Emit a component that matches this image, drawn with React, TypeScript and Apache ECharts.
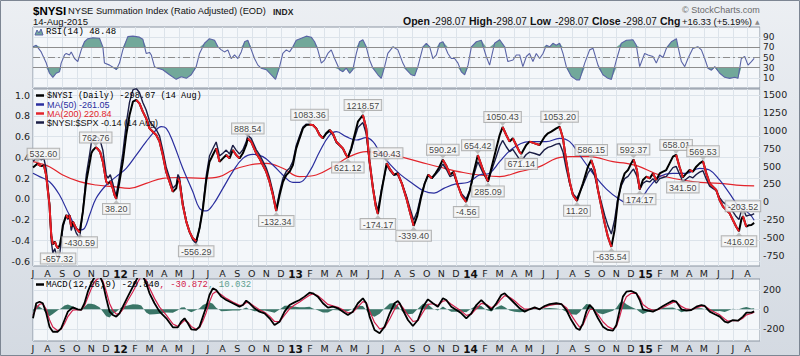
import React, { useEffect, useRef } from "react";
import * as echarts from "echarts";

// x unit: months since 1 Jul 2011
const X_MAX = 49.85;
const X_LABELS = [
  "J", "A", "S", "O", "N", "D",
  "12", "F", "M", "A", "M", "J", "J", "A", "S", "O", "N", "D",
  "13", "F", "M", "A", "M", "J", "J", "A", "S", "O", "N", "D",
  "14", "F", "M", "A", "M", "J", "J", "A", "S", "O", "N", "D",
  "15", "F", "M", "A", "M", "J", "J", "A",
];

const priceT = [
  0, 0.3, 0.55, 0.75, 0.9, 1.13, 1.25, 1.36, 1.5, 1.6,
  1.72, 1.85, 1.95, 2.05, 2.28, 2.39, 2.5, 2.62, 2.74, 2.96,
  3.2, 3.42, 3.65, 3.88, 4.0, 4.1, 4.3, 4.45, 4.6, 4.79,
  5.02, 5.15, 5.3, 5.47, 5.59, 5.71, 5.93, 6.16, 6.39, 6.62,
  6.85, 7.08, 7.3, 7.53, 7.76, 7.99, 8.22, 8.45, 8.68, 8.9,
  9.13, 9.36, 9.59, 9.82, 9.94, 10.05, 10.27, 10.51, 10.73, 10.96,
  11.19, 11.42, 11.65, 11.88, 12.1, 12.33, 12.56, 12.68, 12.79, 13.02,
  13.25, 13.48, 13.7, 13.93, 14.16, 14.39, 14.62, 14.73, 14.96, 15.31,
  15.53, 15.76, 15.99, 16.22, 16.45, 16.68, 16.91, 17.14, 17.37, 17.6,
  17.82, 18.05, 18.28, 18.51, 18.74, 18.96, 19.19, 19.42, 19.65, 19.88,
  20.1, 20.34, 20.56, 20.8, 21.02, 21.25, 21.47, 21.59, 21.82, 22.05,
  22.28, 22.62, 22.85, 23.08, 23.31, 23.5, 23.65, 23.9, 24.25, 24.5,
  24.75, 25.0, 25.3, 25.6, 25.85, 26.1, 26.35, 26.6, 26.85, 27.1,
  27.35, 27.6, 27.85, 28.1, 28.35, 28.6, 28.85, 29.1, 29.4, 29.7,
  29.95, 30.2, 30.5, 30.85, 31.2, 31.54, 31.77, 32.0, 32.2, 32.45,
  32.68, 32.9, 33.13, 33.36, 33.48, 33.82, 34.05, 34.4, 34.74, 35.08,
  35.31, 35.54, 35.88, 36.11, 36.34, 36.57, 36.8, 37.02, 37.3, 37.71,
  38.05, 38.28, 38.51, 38.74, 38.97, 39.2, 39.42, 39.66, 39.88, 40.11,
  40.34, 40.57, 40.8, 41.02, 41.18, 41.41, 41.6, 41.82, 42.06, 42.29,
  42.51, 42.74, 42.97, 43.2, 43.42, 43.65, 43.88, 44.1, 44.33, 44.56,
  44.8, 45.02, 45.25, 45.48, 45.71, 45.94, 46.17, 46.4, 46.62, 46.85,
  47.08, 47.31, 47.54, 47.77, 47.99, 48.22, 48.41, 48.57, 48.68, 48.91,
  49.1, 49.26, 49.45,
];

const priceV = [
  480, 532.6, 500, 510, 375, -47, -469, -600, -563, -620,
  -657.32, -600, -480, -328, -188, -235, -188, -352, -281, -375,
  -430.59, -141, 281, 540, 680, 720, 762.76, 740, 700, 562,
  281, 250, 290, 187, 94, 38.2, 281, 562, 937, 1219,
  1406, 1430, 1383, 1266, 1172, 1031, 984, 937, 844, 656,
  422, 281, 140, 187, 328, 281, -47, -281, -422, -516,
  -556.29, -375, -100, 300, 560, 656, 750, 656, 562, 609,
  656, 609, 727, 656, 609, 680, 797, 888.54, 844, 680,
  609, 516, 422, 281, 94, -132.34, 94, 281, 375, 422,
  516, 750, 891, 1031, 1078, 1083.36, 1078, 1031, 937, 891,
  961, 1008, 961, 844, 797, 750, 656, 621.12, 750, 937,
  1125, 1218.57, 1031, 562, 187, -60, -174.17, 150, 540.43, 450,
  380, 400, 250, 50, -150, -339.4, -200, 50, 250, 380,
  330, 400, 480, 590.24, 500, 380, 420, 250, 80, -4.56,
  150, 400, 654.42, 450, 285.09, 562, 750, 937, 1050.43, 937,
  844, 891, 797, 700, 671.14, 797, 844, 820, 797, 914,
  961, 984, 1031, 1053.2, 891, 562, 281, 94, 11.2, 258,
  492, 586.15, 445, 164, -70, -304, -492, -635.54, -398, 23,
  258, 398, 445, 539, 592.37, 445, 174.17, 305, 352, 328,
  398, 305, 398, 422, 445, 539, 633, 658.01, 492, 341.5,
  398, 445, 422, 492, 539, 569.53, 398, 258, 211, 164,
  23, -70, -117, -164, -258, -352, -416.02, -250, -203.52, -352,
  -330, -328, -298.07,
];

// $NYSI:$SPX ratio (left axis), same dates as priceT
const ratioV = [
  0.361, 0.397, 0.376, 0.386, 0.288, -0.039, -0.408, -0.522, -0.481, -0.544,
  -0.572, -0.508, -0.4, -0.273, -0.157, -0.201, -0.161, -0.306, -0.242, -0.329,
  -0.381, -0.118, 0.227, 0.425, 0.54, 0.571, 0.605, 0.592, 0.565, 0.468,
  0.228, 0.2, 0.232, 0.151, 0.076, 0.031, 0.223, 0.439, 0.721, 0.931,
  1.05, 1.063, 1.024, 0.927, 0.855, 0.75, 0.705, 0.667, 0.603, 0.469,
  0.306, 0.205, 0.101, 0.134, 0.234, 0.202, -0.035, -0.213, -0.322, -0.397,
  -0.431, -0.284, -0.075, 0.222, 0.412, 0.482, 0.547, 0.479, 0.413, 0.438,
  0.469, 0.432, 0.516, 0.469, 0.432, 0.472, 0.548, 0.609, 0.582, 0.472,
  0.426, 0.363, 0.299, 0.202, 0.068, -0.097, 0.068, 0.199, 0.264, 0.297,
  0.361, 0.514, 0.604, 0.692, 0.719, 0.717, 0.712, 0.681, 0.621, 0.586,
  0.624, 0.648, 0.616, 0.541, 0.513, 0.481, 0.422, 0.398, 0.472, 0.582,
  0.686, 0.734, 0.625, 0.343, 0.115, -0.038, -0.11, 0.093, 0.322, 0.266,
  0.225, 0.235, 0.148, 0.03, -0.091, -0.207, -0.12, 0.03, 0.147, 0.225,
  0.196, 0.233, 0.274, 0.335, 0.282, 0.212, 0.233, 0.14, 0.045, -0.003,
  0.082, 0.217, 0.356, 0.251, 0.163, 0.312, 0.408, 0.506, 0.562, 0.501,
  0.454, 0.476, 0.428, 0.38, 0.365, 0.426, 0.449, 0.436, 0.419, 0.474,
  0.495, 0.505, 0.526, 0.533, 0.451, 0.285, 0.145, 0.049, 0.006, 0.13,
  0.246, 0.293, 0.224, 0.083, -0.036, -0.158, -0.259, -0.34, -0.204, 0.011,
  0.126, 0.194, 0.215, 0.26, 0.286, 0.218, 0.087, 0.148, 0.171, 0.162,
  0.194, 0.151, 0.194, 0.205, 0.213, 0.257, 0.3, 0.312, 0.238, 0.166,
  0.19, 0.215, 0.202, 0.234, 0.257, 0.27, 0.189, 0.122, 0.1, 0.078,
  0.011, -0.033, -0.056, -0.079, -0.125, -0.172, -0.2, -0.118, -0.096, -0.168,
  -0.158, -0.157, -0.143,
];

const ma50 = [
  [0, 400], [0.45, 352], [1.13, 281], [1.82, 94], [2.5, -188], [3.19, -398], [3.53, -375],
  [3.88, -188], [4.33, 47], [5.02, 234], [5.71, 352], [6.39, 469], [7.08, 656], [7.76, 844],
  [8.33, 984], [8.79, 1055], [9.14, 1031], [9.59, 844], [10.27, 469], [10.96, 140], [11.42, -94],
  [11.88, -130], [12.33, -47], [13.02, 187], [13.7, 422], [14.39, 609], [15.08, 666], [15.76, 633],
  [16.45, 516], [17.13, 375], [17.82, 272], [18.28, 272], [18.96, 422], [19.65, 703], [20.34, 937],
  [20.8, 984], [21.48, 914], [22.17, 867], [22.85, 900], [23.31, 844], [23.77, 703], [24.5, 520],
  [25.2, 380], [26.0, 260], [26.8, 150], [27.5, 120], [28.2, 190], [29.0, 250], [29.8, 270],
  [30.6, 375], [31.3, 400], [32.0, 562], [32.9, 750], [34.05, 844], [35.2, 844], [36.11, 891],
  [36.8, 844], [37.48, 656], [38.39, 399], [39.3, 180], [40.23, 30], [40.9, -30], [41.6, 23],
  [42.29, 211], [42.97, 352], [43.88, 398], [44.8, 398], [45.71, 469], [46.39, 445], [47.08, 305],
  [47.76, 117], [48.41, -70], [49.09, -164], [49.45, -261.05],
];

const ma200 = [
  [0, 562], [0.45, 539], [1.13, 492], [2.04, 375], [3.19, 281], [4.33, 234], [5.47, 211],
  [6.62, 187], [7.76, 258], [8.9, 328], [10.05, 340], [11.65, 328], [12.79, 352], [13.7, 445],
  [14.85, 516], [16.0, 539], [17.13, 469], [18.28, 352], [19.42, 375], [20.56, 492], [21.7, 633],
  [22.85, 703], [23.77, 680], [25.0, 640], [26.5, 560], [28.0, 480], [29.5, 410], [30.62, 375],
  [32.0, 352], [33.36, 422], [34.74, 492], [35.88, 609], [36.8, 633], [38.17, 633], [39.77, 562],
  [40.69, 539], [41.5, 500], [42.97, 375], [45.25, 281], [47.08, 258], [48.23, 234], [49.45, 220.84],
];

// [time, value, t=label above / b=label below]
const peakLabels: [number, number, string][] = [
  [0.3, 532.6, "t"], [1.72, -657.32, "b"], [3.2, -430.59, "b"], [4.3, 762.76, "t"],
  [5.71, 38.2, "b"], [11.19, -556.29, "b"], [14.73, 888.54, "t"], [16.68, -132.34, "b"],
  [18.96, 1083.36, "t"], [21.59, 621.12, "b"], [22.62, 1218.57, "t"], [23.65, -174.17, "b"],
  [24.25, 540.43, "t"], [26.1, -339.4, "b"], [28.1, 590.24, "t"], [29.7, -4.56, "b"],
  [30.5, 654.42, "t"], [31.2, 285.09, "b"], [32.2, 1050.43, "t"], [33.48, 671.14, "b"],
  [36.11, 1053.2, "t"], [37.3, 11.2, "b"], [38.28, 586.15, "t"], [39.66, -635.54, "b"],
  [41.18, 592.37, "t"], [41.6, 174.17, "b"], [44.1, 658.01, "t"], [44.56, 341.5, "b"],
  [45.94, 569.53, "t"], [48.41, -416.02, "b"], [48.68, -203.52, "t"],
];

const rsi = [
  [0, 71], [0.22, 74], [0.56, 61], [0.91, 39], [1.13, 19], [1.36, 11], [1.59, 19], [1.82, 22],
  [1.93, 39], [2.16, 55], [2.28, 58], [2.5, 55], [2.62, 61], [2.85, 48], [3.07, 42], [3.31, 65],
  [3.53, 81], [3.76, 87], [4.1, 89], [4.56, 88], [4.79, 71], [4.9, 39], [5.25, 35], [5.59, 29],
  [5.71, 26], [5.93, 39], [6.16, 65], [6.5, 91], [6.85, 92], [7.3, 90], [7.53, 86], [7.76, 58],
  [7.99, 60], [8.11, 55], [8.33, 32], [8.56, 29], [8.9, 26], [9.36, 16], [9.82, 7], [10.17, 12],
  [10.51, 9], [10.85, 16], [11.19, 32], [11.42, 58], [11.76, 78], [12.1, 87], [12.45, 84],
  [12.68, 71], [12.91, 65], [13.13, 61], [13.36, 65], [13.59, 48], [13.82, 55], [14.05, 48],
  [14.28, 61], [14.51, 81], [14.73, 84], [14.97, 65], [15.19, 48], [15.42, 35], [15.65, 29],
  [16.0, 26], [16.34, 16], [16.63, 7], [16.91, 32], [17.13, 58], [17.37, 65], [17.59, 61],
  [17.82, 71], [18.05, 84], [18.4, 88], [18.74, 92], [19.08, 90], [19.31, 81], [19.53, 65],
  [19.77, 39], [19.99, 45], [20.22, 58], [20.45, 65], [20.68, 48], [21.02, 26], [21.25, 22],
  [21.48, 29], [21.71, 19], [21.93, 26], [22.17, 58], [22.39, 81], [22.62, 85], [22.85, 71],
  [23.08, 45], [23.31, 29], [23.65, 16], [23.88, 9], [24.11, 32], [24.33, 58], [24.68, 71],
  [25.02, 65], [25.36, 39], [25.6, 26], [25.94, 16], [26.17, 14], [26.39, 32], [26.74, 71],
  [26.97, 78], [27.2, 71], [27.42, 48], [27.66, 55], [27.88, 78], [28.11, 81], [28.45, 58],
  [28.68, 48], [28.91, 48], [29.14, 39], [29.37, 22], [29.6, 16], [29.83, 35], [30.06, 71],
  [30.4, 81], [30.74, 84], [31.08, 52], [31.31, 35], [31.65, 78], [32.0, 85], [32.34, 71],
  [32.56, 42], [32.91, 45], [33.14, 55], [33.37, 55], [33.59, 32], [33.83, 52], [34.05, 58],
  [34.28, 42], [34.51, 58], [34.74, 48], [34.97, 58], [35.2, 74], [35.43, 71], [35.65, 78],
  [35.88, 74], [36.11, 78], [36.34, 58], [36.57, 32], [36.91, 13], [37.26, 6], [37.48, 6],
  [37.83, 39], [38.17, 65], [38.4, 68], [38.74, 35], [39.08, 16], [39.42, 9], [39.66, 7],
  [40.0, 45], [40.34, 78], [40.69, 84], [41.14, 85], [41.37, 74], [41.6, 32], [41.94, 58],
  [42.17, 55], [42.51, 52], [42.74, 39], [42.97, 55], [43.2, 50], [43.43, 68], [43.77, 81],
  [44.12, 87], [44.23, 71], [44.46, 42], [44.69, 32], [44.91, 48], [45.25, 68], [45.6, 71],
  [45.83, 65], [46.06, 48], [46.28, 29], [46.52, 25], [46.75, 32], [47.09, 19], [47.43, 11],
  [47.77, 9], [48.11, 11], [48.34, 9], [48.57, 48], [48.8, 52], [49.03, 35], [49.26, 42],
  [49.45, 48.48],
];

const macdT = [
  0, 0.22, 0.45, 0.67, 0.91, 1.13, 1.36, 1.7, 1.93, 2.16,
  2.39, 2.73, 3.07, 3.31, 3.53, 3.76, 3.99, 4.22, 4.56, 4.79,
  5.02, 5.25, 5.47, 5.71, 5.93, 6.16, 6.5, 6.85, 7.19, 7.42,
  7.76, 7.99, 8.33, 8.68, 9.14, 9.59, 9.93, 10.16, 10.39, 10.62,
  10.85, 11.19, 11.42, 11.65, 11.88, 12.1, 12.33, 12.56, 12.91, 13.25,
  13.7, 14.16, 14.39, 14.62, 14.85, 15.19, 15.53, 15.88, 16.22, 16.56,
  16.91, 17.25, 17.59, 17.93, 18.28, 18.62, 18.96, 19.19, 19.53, 19.88,
  20.22, 20.56, 20.91, 21.25, 21.59, 21.93, 22.28, 22.62, 22.85, 23.08,
  23.42, 23.77, 24.11, 24.46, 24.79, 25.02, 25.14, 25.36, 25.71, 26.05,
  26.39, 26.74, 27.08, 27.42, 27.76, 28.11, 28.34, 28.68, 29.03, 29.37,
  29.71, 30.06, 30.4, 30.74, 31.08, 31.43, 31.77, 32.11, 32.34, 32.68,
  33.02, 33.37, 33.71, 34.05, 34.4, 34.74, 35.08, 35.43, 35.88, 36.23,
  36.57, 36.91, 37.26, 37.48, 37.71, 37.94, 38.17, 38.4, 38.74, 39.08,
  39.42, 39.77, 40.0, 40.23, 40.45, 40.69, 41.03, 41.37, 41.6, 41.82,
  42.17, 42.51, 42.85, 43.2, 43.54, 43.88, 44.11, 44.46, 44.8, 45.14,
  45.49, 45.83, 46.06, 46.4, 46.75, 47.09, 47.43, 47.65, 47.99, 48.34,
  48.68, 48.92, 49.26, 49.45,
];
const macdV = [
  -92, 62, 78, 62, -41, -178, -230, -230, -195, -110,
  -24, 20, 0, -7, 62, 181, 267, 330, 350, 267,
  113, -24, -58, -75, -41, 27, 130, 232, 330, 380,
  267, 164, 62, -24, -92, -185, -185, -127, -92, -144,
  -205, -212, -178, -75, 27, 147, 215, 198, 130, 95,
  62, 27, 44, 89, 62, 10, -24, -41, -92, -161,
  -127, -24, 44, 71, 95, 130, 170, 164, 130, 62,
  17, 27, 10, -24, -58, -24, 62, 113, 62, -75,
  -212, -246, -178, -41, 62, 85, 62, -7, -110, -171,
  -110, 27, 102, 62, 27, 113, 95, 27, -7, -41,
  -92, -41, 44, 95, 44, -7, 62, 147, 164, 113,
  62, 10, -24, 0, 20, 0, 34, 54, 62, 54,
  -7, -110, -195, -212, -144, -24, 44, 10, -92, -178,
  -212, -219, -161, -7, 130, 181, 188, 164, 95, 0,
  -14, -24, 0, 34, 62, 89, 78, 0, -14, -7,
  27, 44, 34, -24, -51, -75, -127, -137, -110, -117,
  -75, -34, -34, -20.84,
];
const signalV = [
  -60, 13, 52, 58, -1, -107, -181, -220, -205, -148,
  -74, -8, -3, -5, 35, 123, 209, 282, 330, 292,
  185, 60, -11, -49, -44, -1, 90, 180, 280, 340,
  300, 218, 112, 22, -60, -150, -175, -146, -114, -132,
  -176, -205, -189, -120, -32, 75, 159, 182, 150, 112,
  75, 40, 42, 70, 65, 30, -5, -30, -70, -125,
  -126, -60, 5, 45, 75, 110, 145, 157, 140, 95,
  50, 35, 20, -5, -37, -30, 25, 78, 68, -18,
  -135, -200, -188, -100, -3, 50, 57, 18, -60, -125,
  -116, -30, 50, 57, 40, 84, 90, 52, 17, -18,
  -62, -50, 6, 60, 50, 16, 44, 106, 140, 124,
  87, 40, 2, 1, 12, 5, 22, 41, 54, 54,
  17, -60, -140, -183, -160, -78, -5, 4, -54, -128,
  -178, -203, -178, -75, 48, 128, 164, 164, 122, 49,
  11, -10, -4, 19, 45, 71, 75, 30, 4, -3,
  15, 32, 33, -1, -31, -57, -99, -122, -115, -116,
  -91, -57, -43, -30.872,
];
const histV = [
  -32, 49, 26, 4, -40, -71, -49, -10, 10, 38,
  50, 28, 3, -2, 27, 58, 58, 48, 20, -25,
  -72, -84, -47, -26, 3, 28, 40, 52, 50, 40,
  -33, -54, -50, -46, -32, -35, -10, 19, 22, -12,
  -29, -7, 11, 45, 59, 72, 56, 16, -20, -17,
  -13, -13, 2, 19, -3, -20, -19, -11, -22, -36,
  -1, 36, 39, 26, 20, 20, 25, 7, -10, -33,
  -33, -8, -10, -19, -21, 6, 37, 35, -6, -57,
  -77, -46, 10, 59, 65, 35, 5, -25, -50, -46,
  6, 57, 52, 5, -13, 29, 5, -25, -24, -23,
  -30, 9, 38, 35, -6, -23, 18, 41, 24, -11,
  -25, -30, -26, -1, 8, -5, 12, 13, 8, 0,
  -24, -50, -55, -29, 16, 54, 49, 6, -38, -50,
  -34, -16, 17, 68, 82, 53, 24, 0, -27, -49,
  -25, -14, 4, 15, 17, 18, 3, -30, -18, -4,
  12, 12, 1, -23, -20, -18, -28, -15, 5, -1,
  16, 23, 9, 10.032,
];

// ---------- styling ----------
const AX = "DejaVu Sans";
const SANS = "Liberation Sans";
const MONO = "Liberation Mono";
const PANEL = "#f4f7fa";
const BORDER = "#8b95a2";
const GRIDC = "#dce3ea";
const TEAL = "#72a89a";

function monthAxis(gridIndex: number, showLabels: boolean) {
  return {
    type: "value",
    gridIndex,
    min: 0,
    max: X_MAX,
    interval: 1,
    axisLine: { show: false },
    axisTick: { show: false },
    splitLine: { show: true, lineStyle: { color: GRIDC, width: 1 } },
    axisLabel: {
      show: showLabels,
      margin: 2,
      fontSize: 9.5,
      fontFamily: AX,
      color: "#222",
      showMinLabel: true,
      showMaxLabel: false,
      formatter: (v: number) => {
        if (Math.abs(v - Math.round(v)) > 1e-6) return "";
        const s = X_LABELS[Math.round(v)];
        if (s === undefined) return "";
        return /\d/.test(s) ? `{y|${s}}` : s;
      },
      rich: { y: { fontWeight: "bold", fontSize: 10.5, fontFamily: AX, color: "#111" } },
    },
  };
}

const labelAxisBase = {
  type: "value",
  axisLine: { show: false },
  axisTick: { show: false },
};

function buildOption() {
  const price = priceT.map((t, i) => [t, priceV[i]]);
  const ratio = priceT.map((t, i) => [t, ratioV[i]]);
  // falling segments drawn red
  const red: any[] = [];
  for (let i = 0; i < priceV.length - 1; i++) {
    if (priceV[i + 1] < priceV[i]) {
      const last = red[red.length - 1];
      if (!last || last[0] !== priceT[i] || last[1] === "-") red.push([priceT[i], priceV[i]]);
      red.push([priceT[i + 1], priceV[i + 1]]);
    } else if (red.length && red[red.length - 1][1] !== "-") {
      red.push([priceT[i], "-"]);
    }
  }

  const txt = (x: number, y: number, text: string, font: string, fill: string, extra: any = {}) => ({
    type: "text",
    x,
    y,
    z: 100,
    silent: true,
    style: { text, font, fill, verticalAlign: "middle", ...extra },
  });
  const icon = (x: number, y: number, color: string) => ({
    type: "line",
    z: 100,
    silent: true,
    shape: { x1: x, y1: y, x2: x + 8, y2: y },
    style: { stroke: color, lineWidth: 2.5 },
  });

  const graphic: any[] = [
    {
      type: "rect",
      z: 100,
      silent: true,
      shape: { x: 0.5, y: 0.5, width: 799, height: 355 },
      style: { fill: "none", stroke: "#7d8693", lineWidth: 1 },
    },
    txt(33, 11, "$NYSI", `bold 11.5px "${SANS}"`, "#000"),
    txt(68, 11, "NYSE Summation Index (Ratio Adjusted) (EOD)", `9.3px "${SANS}"`, "#111"),
    txt(273, 11.5, "INDX", `bold 8.5px "${SANS}"`, "#222"),
    txt(33, 21, "14-Aug-2015", `9.5px "${SANS}"`, "#111"),
    txt(682, 10, "\u00A9 StockCharts.com", `9px "${SANS}"`, "#6a6a6a"),
    txt(403, 20.5, "Open", `bold 10.5px "${SANS}"`, "#111"),
    txt(432, 21, "-298.07", `10px "${SANS}"`, "#111"),
    txt(469, 20.5, "High", `bold 10.5px "${SANS}"`, "#111"),
    txt(493, 21, "-298.07", `10px "${SANS}"`, "#111"),
    txt(530, 20.5, "Low", `bold 10.5px "${SANS}"`, "#111"),
    txt(555, 21, "-298.07", `10px "${SANS}"`, "#111"),
    txt(592, 20.5, "Close", `bold 10.5px "${SANS}"`, "#111"),
    txt(623, 21, "-298.07", `10px "${SANS}"`, "#111"),
    txt(660, 20.5, "Chg", `bold 10.5px "${SANS}"`, "#111"),
    txt(682, 21, "+16.33 (+5.19%)", `9.4px "${SANS}"`, "#111"),
    txt(755, 21, "\u25B2", `6px "${AX}"`, "#8a8a8a"),
    // RSI legend
    {
      type: "polygon",
      z: 100,
      silent: true,
      shape: { points: [[35, 35], [37, 30], [39, 33], [41, 29], [43, 35]] },
      style: { fill: TEAL, stroke: "#5a64a6", lineWidth: 1 },
    },
    txt(46, 32, "RSI(14) 48.48", `9px "${MONO}"`, "#000"),
    // main legend
    icon(36, 95.5, "#000"),
    txt(47, 95.5, "$NYSI (Daily) -298.07 (14 Aug)", `8.6px "${MONO}"`, "#000"),
    icon(36, 104.5, "#2a2e9e"),
    txt(47, 104.5, "MA(50) -261.05", `9px "${SANS}"`, "#2a2e9e"),
    icon(36, 113.5, "#e3242b"),
    txt(47, 113.5, "MA(200) 220.84", `9px "${SANS}"`, "#e3242b"),
    icon(36, 122.5, "#1b1e46"),
    txt(47, 122.5, "$NYSI:$SPX -0.14 (14 Aug)", `9px "${SANS}"`, "#111"),
    // MACD legend
    icon(36, 284.5, "#000"),
    txt(46, 284.5, "MACD(12,26,9) -20.840", `9px "${MONO}"`, "#000"),
    txt(159.4, 284.5, ", -30.872", `9px "${MONO}"`, "#d3214c"),
    txt(208, 284.5, ", 10.032", `9px "${MONO}"`, "#5e9f90"),
  ];

  const rightLabel = {
    fontSize: 9.5,
    fontFamily: AX,
    color: "#222",
    margin: 3,
    formatter: (v: number) => String(Math.round(v)),
  };

  return {
    animation: false,
    backgroundColor: new echarts.graphic.LinearGradient(0, 0, 0, 1, [
      { offset: 0, color: "#eceff3" },
      { offset: 1, color: "#d4dae2" },
    ]),
    textStyle: { fontFamily: SANS },
    grid: [
      { left: 33, right: 40, top: 27, height: 61, show: true, backgroundColor: PANEL, borderColor: BORDER, borderWidth: 1 },
      { left: 33, right: 40, top: 89, height: 177, show: true, backgroundColor: PANEL, borderColor: BORDER, borderWidth: 1 },
      { left: 33, right: 40, top: 77.22, height: 195.56, show: false },
      { left: 33, right: 40, top: 74.25, height: 207.5, show: false },
      { left: 33, right: 40, top: 279, height: 62, show: true, backgroundColor: PANEL, borderColor: BORDER, borderWidth: 1 },
      { left: 33, right: 40, top: 270.3, height: 78, show: false },
    ],
    xAxis: [
      monthAxis(0, false),
      monthAxis(1, true),
      { type: "value", gridIndex: 2, min: 0, max: 1, show: false },
      { type: "value", gridIndex: 3, min: 0, max: 1, show: false },
      monthAxis(4, true),
      { type: "value", gridIndex: 5, min: 0, max: 1, show: false },
    ],
    yAxis: [
      {
        ...labelAxisBase,
        gridIndex: 0,
        position: "right",
        min: -10,
        max: 110,
        interval: 20,
        axisLabel: { ...rightLabel, fontSize: 9, showMinLabel: false, showMaxLabel: false },
        splitLine: { show: true, showMinLine: false, showMaxLine: false, lineStyle: { color: GRIDC } },
      },
      { type: "value", gridIndex: 1, min: -904.7, max: 1584.4, show: false, splitLine: { show: false } },
      { type: "value", gridIndex: 1, min: -0.6482, max: 1.0578, show: false, splitLine: { show: false } },
      {
        ...labelAxisBase,
        gridIndex: 2,
        position: "right",
        min: -1000,
        max: 1750,
        interval: 250,
        axisLabel: { ...rightLabel, showMinLabel: false, showMaxLabel: false },
        splitLine: { show: false },
      },
      {
        ...labelAxisBase,
        gridIndex: 3,
        position: "left",
        min: -0.8,
        max: 1.2,
        interval: 0.2,
        axisLabel: {
          ...rightLabel,
          showMinLabel: false,
          showMaxLabel: false,
          formatter: (v: number) => v.toFixed(1),
        },
        splitLine: { show: true, showMinLine: false, showMaxLine: false, lineStyle: { color: GRIDC } },
      },
      { type: "value", gridIndex: 4, min: -325.1, max: 310.8, show: false, splitLine: { show: false } },
      {
        ...labelAxisBase,
        gridIndex: 5,
        position: "right",
        min: -400,
        max: 400,
        interval: 200,
        axisLabel: { ...rightLabel, showMinLabel: false, showMaxLabel: false },
        splitLine: { show: true, showMinLine: false, showMaxLine: false, lineStyle: { color: GRIDC } },
      },
    ],
    series: [
      // RSI
      {
        type: "line", xAxisIndex: 0, yAxisIndex: 0, silent: true, symbol: "none",
        data: rsi.map(([t, v]) => [t, Math.max(v, 70)]),
        lineStyle: { width: 0 }, areaStyle: { origin: 70, color: TEAL, opacity: 1 },
      },
      {
        type: "line", xAxisIndex: 0, yAxisIndex: 0, silent: true, symbol: "none",
        data: rsi.map(([t, v]) => [t, Math.min(v, 30)]),
        lineStyle: { width: 0 }, areaStyle: { origin: 30, color: TEAL, opacity: 1 },
      },
      {
        type: "line", xAxisIndex: 0, yAxisIndex: 0, silent: true, symbol: "none",
        data: rsi, lineStyle: { color: "#5a64a6", width: 1.1 },
        markLine: {
          silent: true, symbol: ["none", "none"], label: { show: false },
          data: [
            { yAxis: 70, lineStyle: { color: "#8d8d8d", width: 1.2, type: "solid" } },
            { yAxis: 30, lineStyle: { color: "#8d8d8d", width: 1.2, type: "solid" } },
            { yAxis: 50, lineStyle: { color: "#8d8d8d", width: 1, type: [7, 3, 2, 3] } },
          ],
        },
      },
      // main panel
      {
        type: "line", xAxisIndex: 1, yAxisIndex: 1, silent: true, symbol: "none", smooth: 0.4,
        data: ma200, lineStyle: { color: "#e3242b", width: 1.2 },
      },
      {
        type: "line", xAxisIndex: 1, yAxisIndex: 1, silent: true, symbol: "none", smooth: 0.4,
        data: ma50, lineStyle: { color: "#2a2e9e", width: 1.2 },
      },
      {
        type: "line", xAxisIndex: 1, yAxisIndex: 2, silent: true, symbol: "none",
        data: ratio, lineStyle: { color: "#1b1e46", width: 1.4 },
      },
      {
        type: "line", xAxisIndex: 1, yAxisIndex: 1, silent: true, symbol: "none",
        data: price, lineStyle: { color: "#000", width: 2 },
      },
      {
        type: "line", xAxisIndex: 1, yAxisIndex: 1, silent: true, symbol: "none", connectNulls: false,
        data: red, lineStyle: { color: "#ec1c24", width: 2 },
      },
      {
        type: "scatter", xAxisIndex: 1, yAxisIndex: 1, silent: true, z: 5,
        symbol: "triangle", symbolSize: [7, 4],
        itemStyle: { color: "#b4b4b4" },
        label: {
          show: true, fontSize: 9, fontFamily: SANS, color: "#111",
          backgroundColor: "#f6f6f6", borderColor: "#a2a2a2", borderWidth: 1,
          padding: [1, 2, 0, 2], distance: 0,
        },
        data: peakLabels.map(([t, v, p], i) => ({
          value: [t, v],
          symbolRotate: p === "t" ? 180 : 0,
          symbolOffset: [0, p === "t" ? -3 : 3],
          label: {
            position: p === "t" ? "top" : "bottom",
            formatter: v.toFixed(2),
            offset: i === 0 ? [6, 0] : [0, 0],
          },
        })),
      },
      // MACD
      {
        type: "line", xAxisIndex: 4, yAxisIndex: 5, silent: true, symbol: "none",
        data: macdT.map((t, i) => [t, histV[i]]),
        lineStyle: { width: 0 }, areaStyle: { origin: 0, color: "#3a7567", opacity: 1 },
      },
      {
        type: "line", xAxisIndex: 4, yAxisIndex: 5, silent: true, symbol: "none",
        data: macdT.map((t, i) => [t, signalV[i]]), lineStyle: { color: "#d3214c", width: 1.2 },
      },
      {
        type: "line", xAxisIndex: 4, yAxisIndex: 5, silent: true, symbol: "none",
        data: macdT.map((t, i) => [t, macdV[i]]), lineStyle: { color: "#000", width: 1.8 },
      },
    ],
    graphic,
  };
}

export default function App() {
  const ref = useRef<HTMLDivElement>(null);
  useEffect(() => {
    if (!ref.current) return;
    const chart = echarts.init(ref.current, null, { renderer: "svg", width: 800, height: 356 });
    chart.setOption(buildOption() as any);
    return () => chart.dispose();
  }, []);
  return (
    <div
      ref={ref}
      style={{ position: "fixed", left: 0, top: 0, width: 800, height: 356 }}
    />
  );
}
